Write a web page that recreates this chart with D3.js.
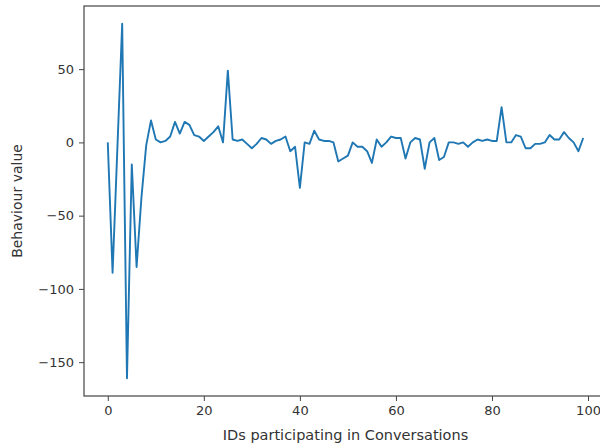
<!DOCTYPE html>
<html>
<head>
<meta charset="utf-8">
<script src="https://cdn.jsdelivr.net/npm/d3@7"></script>
<style>
  body { margin: 0; background: #fff; }
  text { font-family: "DejaVu Sans", sans-serif; }
</style>
</head>
<body>
<svg id="chart" width="600" height="443"></svg>
<script>
// values, one per ID 0..99
const ids = d3.range(100);
const behaviour = [
  0, -89, -4, 81, -161, -15, -85, -38, -2, 15,
  2, 0, 1, 4, 14, 6, 14, 12, 5, 4,
  1, 4, 7, 11, 0, 49, 2, 1, 2, -1,
  -4, -1, 3, 2, -1, 1, 2, 4, -6, -3,
  -31, 0, -1, 8, 2, 1, 1, 0, -13, -11,
  -9, 0, -3, -3, -6, -14, 2, -3, 0, 4,
  3, 3, -11, 0, 3, 2, -18, 0, 3, -12,
  -10, 0, 0, -1, 0, -3, 0, 2, 1, 2,
  1, 1, 24, 0, 0, 5, 4, -4, -4, -1,
  -1, 0, 5, 2, 2, 7, 3, 0, -6, 3
];
const xTicks = [0, 20, 40, 60, 80, 100];
const yTicks = [50, 0, -50, -100, -150];
const xLabel = "IDs participating in Conversations";
const yLabel = "Behaviour value";

// plot frame (right edge falls just outside the 600px picture, as in the reference)
const frame = { left: 84, top: 6, bottom: 396, right: 607 };
const svg = d3.select("#chart");

// matplotlib-style 5% margins around the data
const pad = (lo, hi) => { const m = (hi - lo) * 0.05; return [lo - m, hi + m]; };
const x = d3.scaleLinear().domain(pad(d3.min(ids), d3.max(ids))).range([frame.left, frame.right]);
const y = d3.scaleLinear().domain(pad(d3.min(behaviour), d3.max(behaviour))).range([frame.bottom, frame.top]);

const fmt = d3.format("");

function styleAxis(g) {
  g.select(".domain").remove();
  g.selectAll("line").attr("stroke", "#444");
  g.selectAll("text")
    .attr("font-size", 13)
    .attr("fill", "#333")
    .attr("font-family", "DejaVu Sans, sans-serif");
}

svg.append("g")
    .attr("transform", `translate(0,${frame.bottom})`)
    .call(d3.axisBottom(x).tickValues(xTicks).tickFormat(fmt).tickSize(5).tickPadding(5))
    .call(styleAxis);

svg.append("g")
    .attr("transform", `translate(${frame.left},0)`)
    .call(d3.axisLeft(y).tickValues(yTicks).tickFormat(fmt).tickSize(5).tickPadding(5))
    .call(styleAxis);

const line = d3.line()
    .x((d, i) => x(ids[i]))
    .y(d => y(d));

svg.append("path")
    .datum(behaviour)
    .attr("fill", "none")
    .attr("stroke", "#1f77b4")
    .attr("stroke-width", 1.9)
    .attr("stroke-linejoin", "round")
    .attr("d", line);

svg.append("rect")
    .attr("x", frame.left).attr("y", frame.top)
    .attr("width", frame.right - frame.left).attr("height", frame.bottom - frame.top)
    .attr("fill", "none")
    .attr("stroke", "#444")
    .attr("stroke-width", 1.2);

svg.append("text")
    .attr("x", (frame.left + frame.right) / 2)
    .attr("y", 440)
    .attr("text-anchor", "middle")
    .attr("font-size", 14.5)
    .attr("fill", "#333")
    .text(xLabel);

svg.append("text")
    .attr("transform", `translate(22,${(frame.top + frame.bottom) / 2}) rotate(-90)`)
    .attr("text-anchor", "middle")
    .attr("font-size", 14)
    .attr("fill", "#333")
    .text(yLabel);
</script>
</body>
</html>
